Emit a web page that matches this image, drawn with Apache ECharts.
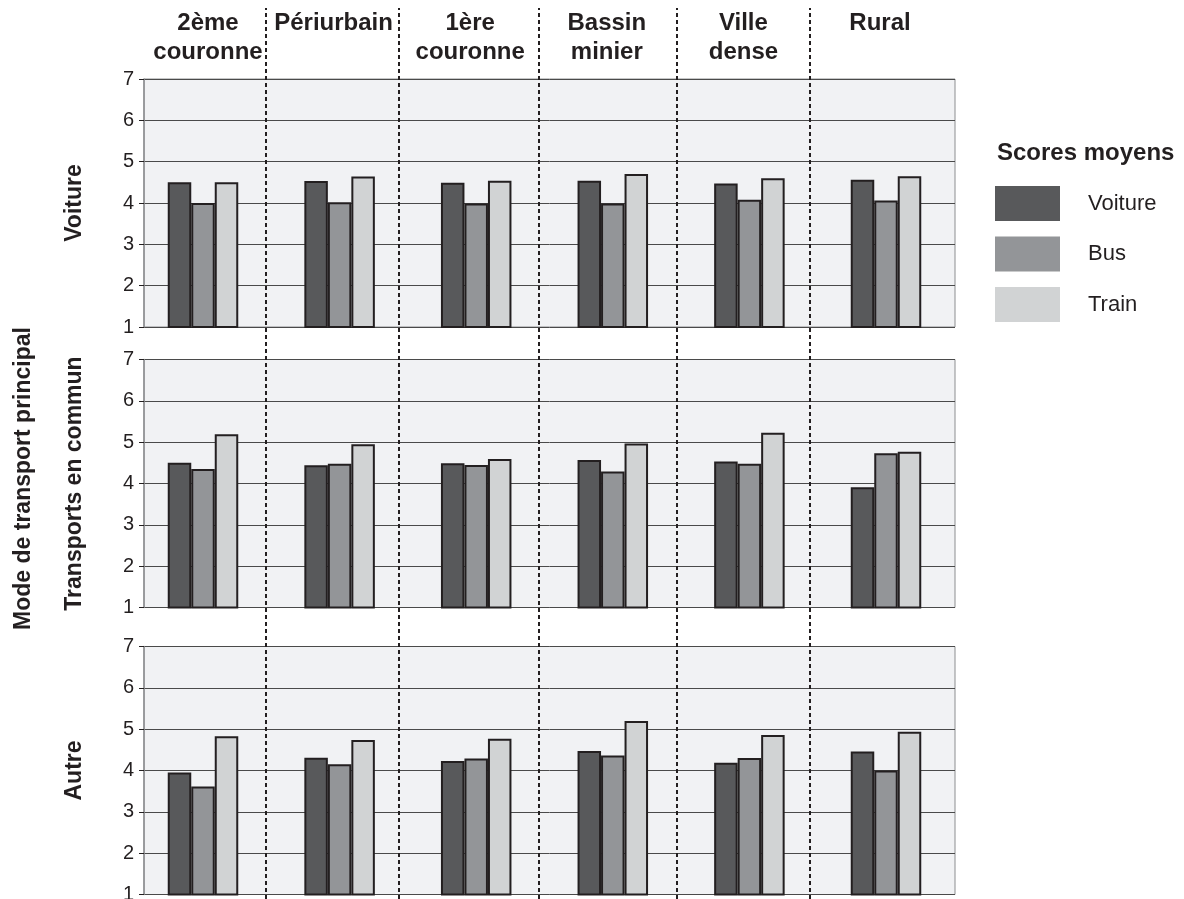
<!DOCTYPE html>
<html>
<head>
<meta charset="utf-8">
<script src="https://cdn.jsdelivr.net/npm/echarts@6/dist/echarts.min.js"></script>
<style>
html,body{margin:0;padding:0;background:#fff;}
#chart{width:1184px;height:899px;}
</style>
</head>
<body>
<div id="chart"></div>
<script>
// ---- Data ----
const categories = ['2ème\ncouronne', 'Périurbain', '1ère\ncouronne', 'Bassin\nminier', 'Ville\ndense', 'Rural'];
const seriesNames = ['Voiture', 'Bus', 'Train'];
const panelTitles = ['Voiture', 'Transports en commun', 'Autre'];
const outerTitle = 'Mode de transport principal';
const legendTitle = 'Scores moyens';
const yMin = 1, yMax = 7, yInterval = 1;

// Panel "Voiture"
const voitureVoiture = [4.50, 4.53, 4.49, 4.54, 4.47, 4.56];
const voitureBus     = [4.00, 4.02, 3.99, 3.99, 4.08, 4.06];
const voitureTrain   = [4.50, 4.64, 4.54, 4.70, 4.60, 4.65];
// Panel "Transports en commun"
const tcVoiture = [4.50, 4.44, 4.49, 4.57, 4.53, 3.91];
const tcBus     = [4.35, 4.48, 4.45, 4.29, 4.48, 4.73];
const tcTrain   = [5.19, 4.95, 4.59, 4.97, 5.23, 4.77];
// Panel "Autre"
const autreVoiture = [3.95, 4.31, 4.23, 4.47, 4.19, 4.46];
const autreBus     = [3.61, 4.15, 4.29, 4.36, 4.30, 4.00];
const autreTrain   = [4.83, 4.74, 4.77, 5.20, 4.86, 4.94];

const panelValues = [
  [voitureVoiture, voitureBus, voitureTrain],
  [tcVoiture, tcBus, tcTrain],
  [autreVoiture, autreBus, autreTrain]
];

// ---- Layout / style ----
const colors = ['#58595b', '#939598', '#d1d3d4'];
const ink = '#231f20';
const font = "'Liberation Sans', Arial, Helvetica, sans-serif";
const panelTops = [79, 359.5, 646.5];
const panelHeight = 248;
const dividerPositions = [0.959, 1.925, 2.955, 3.968, 4.939]; // in category-band units

const grid = [], xAxis = [], yAxis = [], series = [];

panelTops.forEach((top, p) => {
  const gA = grid.length;
  grid.push({ left: 144, top: top, width: 811, height: panelHeight, show: true,
              outerBoundsMode: 'none', containLabel: false,
              backgroundColor: '#f1f2f4', borderColor: '#8c8e90', borderWidth: 1 });
  const gB = grid.length;
  grid.push({ left: 134.7, top: top, width: 819.6, height: panelHeight,
              outerBoundsMode: 'none', containLabel: false });

  xAxis.push({ gridIndex: gA, type: 'category', data: categories, show: false });
  xAxis.push({
    gridIndex: gB, type: 'category', data: categories, show: p === 0, position: 'top',
    axisLine: { show: false }, axisTick: { show: false }, splitLine: { show: false },
    axisLabel: {
      show: p === 0, interval: 0, fontSize: 24, fontWeight: 'bold', color: ink,
      fontFamily: font, lineHeight: 29, verticalAlign: 'top', margin: 70,
      padding: [0, 12, 0, 0],
      formatter: (v, i) => i === 0 ? '{first|' + v + '}' : v,
      rich: { first: { fontSize: 24, fontWeight: 'bold', color: ink, fontFamily: font,
                       lineHeight: 29, padding: [0, 0, 0, 22] } }
    }
  });

  yAxis.push({
    gridIndex: gA, type: 'value', min: yMin, max: yMax, interval: yInterval,
    name: panelTitles[p], nameLocation: 'middle', nameGap: 58,
    nameTextStyle: { fontSize: 23, fontWeight: 'bold', color: ink, fontFamily: font },
    axisLine: { show: true, lineStyle: { color: '#8c8e90', width: 1.5 } },
    axisTick: { show: true, length: 5, lineStyle: { color: ink } },
    axisLabel: { fontSize: 20, color: ink, margin: 10, fontFamily: font },
    splitLine: { show: true, lineStyle: { color: '#4a4a4a', width: 1 } }
  });
  yAxis.push({
    gridIndex: gB, type: 'value', min: yMin, max: yMax, interval: yInterval,
    name: p === 1 ? outerTitle : '', nameLocation: 'middle', nameGap: 100,
    nameTextStyle: { fontSize: 23, fontWeight: 'bold', color: ink, fontFamily: font,
                     padding: [0, 0, 0, 10] },
    axisLine: { show: false }, axisTick: { show: false }, axisLabel: { show: false },
    splitLine: { show: false }
  });

  seriesNames.forEach((name, s) => {
    series.push({
      name: name, type: 'bar', xAxisIndex: gB, yAxisIndex: gB,
      data: panelValues[p][s], barWidth: 23.5, barGap: '0%',
      itemStyle: { color: colors[s], borderColor: ink, borderWidth: 2 },
      emphasis: { disabled: true }, z: 3
    });
  });
});

// Overlay for dashed dividers
const gO = grid.length;
grid.push({ left: 134.7, width: 819.6, top: 8, bottom: 0, outerBoundsMode: 'none', containLabel: false });
xAxis.push({ gridIndex: gO, type: 'value', min: 0, max: categories.length, show: false });
yAxis.push({ gridIndex: gO, type: 'value', min: 0, max: 1, show: false });
series.push({
  type: 'line', xAxisIndex: gO, yAxisIndex: gO, data: [], showSymbol: false, silent: true,
  markLine: {
    silent: true, symbol: ['none', 'none'], label: { show: false },
    lineStyle: { type: [4, 3], color: ink, width: 2 },
    emphasis: { disabled: true },
    data: dividerPositions.map(v => ({ xAxis: v }))
  },
  z: 5
});

const chart = echarts.init(document.getElementById('chart'), null, { renderer: 'canvas' });
chart.setOption({
  animation: false,
  backgroundColor: '#ffffff',
  textStyle: { fontFamily: font },
  title: {
    text: legendTitle, left: 992, top: 136,
    textStyle: { fontSize: 24, fontWeight: 'bold', color: ink, fontFamily: font }
  },
  legend: {
    data: seriesNames, orient: 'vertical', left: 990, top: 181,
    itemWidth: 65, itemHeight: 35, itemGap: 15.5, icon: 'rect',
    itemStyle: { borderWidth: 0 },
    textStyle: { fontSize: 22, color: ink, fontFamily: font, padding: [0, 0, 0, 23] },
    selectedMode: false
  },
  grid: grid, xAxis: xAxis, yAxis: yAxis, series: series
});
</script>
</body>
</html>
